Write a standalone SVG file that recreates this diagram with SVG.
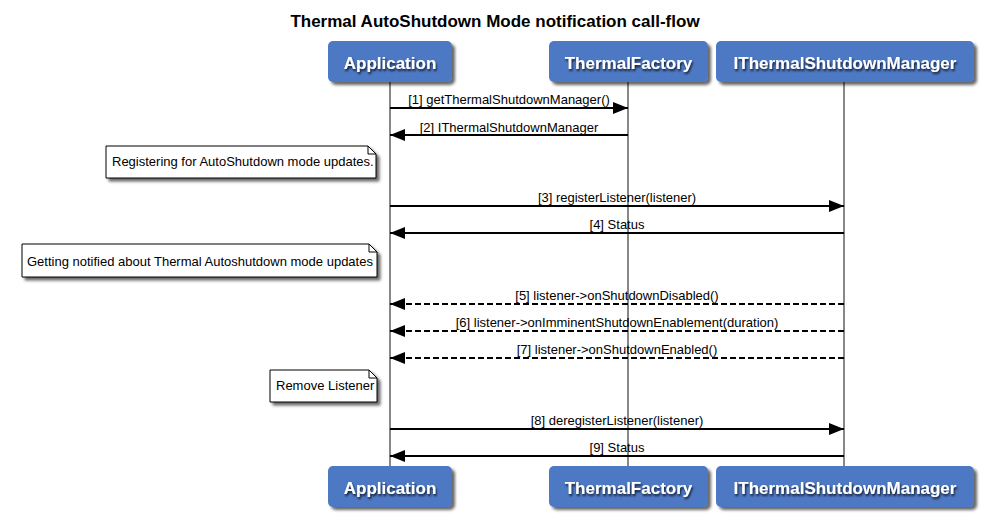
<svg xmlns="http://www.w3.org/2000/svg" width="986" height="515" viewBox="0 0 986 515">
<defs>
<filter id="sh" x="-10%" y="-10%" width="130%" height="140%">
<feGaussianBlur in="SourceAlpha" stdDeviation="1.5"/>
<feOffset dx="3" dy="3" result="b"/>
<feComponentTransfer><feFuncA type="linear" slope="0.6"/></feComponentTransfer>
<feMerge><feMergeNode/><feMergeNode in="SourceGraphic"/></feMerge>
</filter>
<filter id="tsh" x="-10%" y="-20%" width="120%" height="150%">
<feGaussianBlur in="SourceAlpha" stdDeviation="1"/>
<feOffset dx="1" dy="1.5" result="b"/>
<feComponentTransfer><feFuncA type="linear" slope="0.8"/></feComponentTransfer>
<feMerge><feMergeNode/><feMergeNode in="SourceGraphic"/></feMerge>
</filter>
<marker id="ah" viewBox="0 0 15 12" refX="15" refY="6" markerWidth="15" markerHeight="12" markerUnits="userSpaceOnUse" orient="auto">
<path d="M0,0 L15,6 L0,12 Z" fill="#000"/>
</marker>
</defs>
<style>
.title{font-family:"Liberation Sans",Arial,sans-serif;font-weight:bold;font-size:17px;fill:#000}
.pbox{fill:#4e78c4;filter:url(#sh)}
.ptxt{font-family:"Liberation Sans",Arial,sans-serif;font-weight:bold;font-size:17px;fill:#fff;text-anchor:middle;filter:url(#tsh)}
.life{stroke:#888;stroke-width:2;fill:none}
.msg{stroke:#000;stroke-width:2;fill:none;marker-end:url(#ah)}
.dash{stroke-dasharray:6,3}
.mtxt{font-family:"Liberation Sans",Arial,sans-serif;font-size:13px;fill:#000;text-anchor:middle}
.note{fill:#fff;stroke:#000;stroke-width:1;filter:url(#sh)}
.ntxt{font-family:"Liberation Sans",Arial,sans-serif;font-size:13px;fill:#000}
</style>
<rect width="986" height="515" fill="#fff"/>
<text class="title" x="495" y="27" text-anchor="middle">Thermal AutoShutdown Mode notification call-flow</text>
<g id="lifelines">
<line class="life" x1="390" y1="82" x2="390" y2="466"/>
<line class="life" x1="628" y1="82" x2="628" y2="466"/>
<line class="life" x1="844" y1="82" x2="844" y2="466"/>
</g>
<g id="p-application">
<rect class="pbox" x="328" y="41" width="124" height="41" rx="5"/>
<text class="ptxt" x="390" y="68.5">Application</text>
<rect class="pbox" x="328" y="466" width="124" height="41" rx="5"/>
<text class="ptxt" x="390" y="493.5">Application</text>
</g>
<g id="p-thermalfactory">
<rect class="pbox" x="549" y="41" width="159" height="41" rx="5"/>
<text class="ptxt" x="628.5" y="68.5">ThermalFactory</text>
<rect class="pbox" x="549" y="466" width="159" height="41" rx="5"/>
<text class="ptxt" x="628.5" y="493.5">ThermalFactory</text>
</g>
<g id="p-ithermalshutdownmanager">
<rect class="pbox" x="716" y="41" width="258" height="41" rx="5"/>
<text class="ptxt" x="845" y="68.5">IThermalShutdownManager</text>
<rect class="pbox" x="716" y="466" width="258" height="41" rx="5"/>
<text class="ptxt" x="845" y="493.5">IThermalShutdownManager</text>
</g>
<g id="note-1">
<path class="note" d="M106,146 H368 L376,154 V178 H106 Z"/>
<path d="M368,146 V154 H376" fill="none" stroke="#000" stroke-width="1"/>
<text class="ntxt" x="112" y="166">Registering for AutoShutdown mode updates.</text>
</g>
<g id="note-2">
<path class="note" d="M22,244 H369 L377,252 V277 H22 Z"/>
<path d="M369,244 V252 H377" fill="none" stroke="#000" stroke-width="1"/>
<text class="ntxt" x="27" y="265.5">Getting notified about Thermal Autoshutdown mode updates</text>
</g>
<g id="note-3">
<path class="note" d="M270,370 H369 L377,378 V402 H270 Z"/>
<path d="M369,370 V378 H377" fill="none" stroke="#000" stroke-width="1"/>
<text class="ntxt" x="276" y="390">Remove Listener</text>
</g>
<g id="connectors">
<line class="msg" x1="390" y1="108" x2="628" y2="108"/>
<text class="mtxt" x="509" y="104">[1] getThermalShutdownManager()</text>
<line class="msg" x1="628" y1="135" x2="390" y2="135"/>
<text class="mtxt" x="509" y="131.5">[2] IThermalShutdownManager</text>
<line class="msg" x1="390" y1="206" x2="844" y2="206"/>
<text class="mtxt" x="617" y="202">[3] registerListener(listener)</text>
<line class="msg" x1="844" y1="233" x2="390" y2="233"/>
<text class="mtxt" x="617" y="229">[4] Status</text>
<line class="msg dash" x1="844" y1="304" x2="390" y2="304"/>
<text class="mtxt" x="617" y="300">[5] listener-&gt;onShutdownDisabled()</text>
<line class="msg dash" x1="844" y1="331" x2="390" y2="331"/>
<text class="mtxt" x="617" y="327">[6] listener-&gt;onImminentShutdownEnablement(duration)</text>
<line class="msg dash" x1="844" y1="358" x2="390" y2="358"/>
<text class="mtxt" x="617" y="354">[7] listener-&gt;onShutdownEnabled()</text>
<line class="msg" x1="390" y1="429" x2="844" y2="429"/>
<text class="mtxt" x="617" y="425">[8] deregisterListener(listener)</text>
<line class="msg" x1="844" y1="456" x2="390" y2="456"/>
<text class="mtxt" x="617" y="452">[9] Status</text>
</g>
</svg>
